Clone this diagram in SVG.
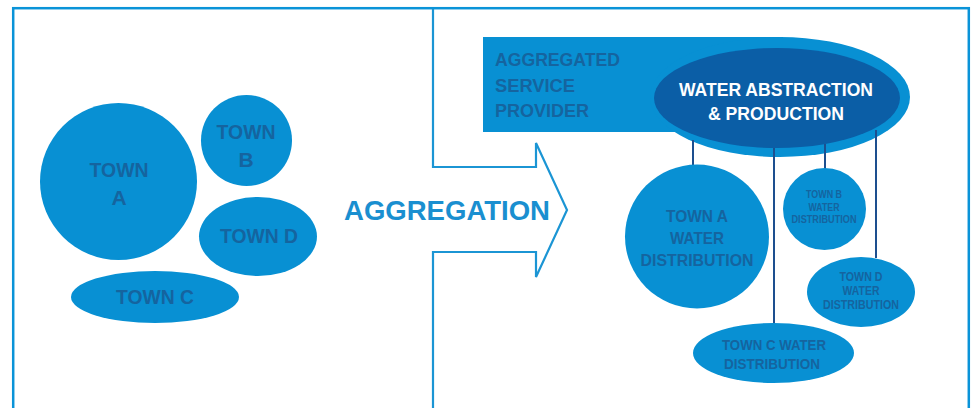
<svg xmlns="http://www.w3.org/2000/svg" width="975" height="408" viewBox="0 0 975 408">
<style>
.blob{fill:#0890d3}
.dark{fill:#0b5ea6}
.t{font-family:"Liberation Sans",Arial,sans-serif;font-weight:bold;fill:#15649f;text-anchor:middle}
.w{font-family:"Liberation Sans",Arial,sans-serif;font-weight:bold;fill:#ffffff;text-anchor:middle}
.link{stroke:#1d4f8f;stroke-width:2;fill:none}
</style>
<rect width="975" height="408" fill="#ffffff"/>
<rect x="13.2" y="8.2" width="955.6" height="420" fill="none" stroke="#0a93d8" stroke-width="2.5"/>
<g id="aggregation-arrow">
<path d="M433,9 V167 H536 V143 L567,210 L536,277 V252 H433 V408" fill="none" stroke="#1b95d4" stroke-width="2.2" stroke-linejoin="miter"/>
<text x="447" y="220" font-family="Liberation Sans,Arial,sans-serif" font-weight="bold" font-size="28" fill="#1a8fd0" text-anchor="middle" textLength="206" lengthAdjust="spacingAndGlyphs">AGGREGATION</text>
</g>
<g id="town-a">
<circle cx="118.5" cy="181.5" r="78.5" class="blob"/>
<text class="t" x="119" y="177" font-size="21" textLength="59" lengthAdjust="spacingAndGlyphs">TOWN</text>
<text class="t" x="119" y="205" font-size="21">A</text>
</g>
<g id="town-b">
<circle cx="246.5" cy="140.5" r="45.5" class="blob"/>
<text class="t" x="246" y="139" font-size="21" textLength="59" lengthAdjust="spacingAndGlyphs">TOWN</text>
<text class="t" x="246" y="167" font-size="21">B</text>
</g>
<g id="town-d">
<ellipse cx="258" cy="236.5" rx="59" ry="39.5" class="blob"/>
<text class="t" x="259" y="243" font-size="21" textLength="78" lengthAdjust="spacingAndGlyphs">TOWN D</text>
</g>
<g id="town-c">
<ellipse cx="155" cy="297" rx="84" ry="26" class="blob"/>
<text class="t" x="155" y="304" font-size="21" textLength="78" lengthAdjust="spacingAndGlyphs">TOWN C</text>
</g>
<g id="aggregated-service-provider">
<rect x="483" y="37" width="300" height="95" class="blob"/>
<ellipse cx="780" cy="97" rx="130" ry="60" class="blob"/>
<text class="t" x="495" y="66" font-size="18" style="text-anchor:start" textLength="125" lengthAdjust="spacingAndGlyphs">AGGREGATED</text>
<text class="t" x="495" y="92" font-size="18" style="text-anchor:start" textLength="80" lengthAdjust="spacingAndGlyphs">SERVICE</text>
<text class="t" x="495" y="117" font-size="18" style="text-anchor:start" textLength="94" lengthAdjust="spacingAndGlyphs">PROVIDER</text>
</g>
<g id="water-abstraction">
<ellipse cx="777" cy="98" rx="123" ry="50" class="dark"/>
<text class="w" x="776" y="96" font-size="18" textLength="194" lengthAdjust="spacingAndGlyphs">WATER ABSTRACTION</text>
<text class="w" x="776" y="120" font-size="18" textLength="136" lengthAdjust="spacingAndGlyphs">&amp; PRODUCTION</text>
</g>
<g id="connectors">
<line class="link" x1="693" y1="140" x2="693" y2="166"/>
<line class="link" x1="774" y1="148" x2="774" y2="324"/>
<line class="link" x1="825" y1="144" x2="825" y2="169"/>
<line class="link" x1="876" y1="130" x2="876" y2="258"/>
</g>
<g id="town-a-water">
<circle cx="697" cy="236.5" r="72" class="blob"/>
<text class="t" x="697" y="222" font-size="17" textLength="62" lengthAdjust="spacingAndGlyphs">TOWN A</text>
<text class="t" x="697" y="244" font-size="17" textLength="54" lengthAdjust="spacingAndGlyphs">WATER</text>
<text class="t" x="697" y="266" font-size="17" textLength="113" lengthAdjust="spacingAndGlyphs">DISTRIBUTION</text>
</g>
<g id="town-b-water">
<ellipse cx="824.5" cy="209" rx="41.5" ry="41" class="blob"/>
<text class="t" x="824" y="198" font-size="10" textLength="36" lengthAdjust="spacingAndGlyphs">TOWN B</text>
<text class="t" x="824" y="211" font-size="10" textLength="31" lengthAdjust="spacingAndGlyphs">WATER</text>
<text class="t" x="824" y="223" font-size="10" textLength="65" lengthAdjust="spacingAndGlyphs">DISTRIBUTION</text>
</g>
<g id="town-d-water">
<ellipse cx="861" cy="292" rx="54" ry="35" class="blob"/>
<text class="t" x="861" y="281" font-size="12" textLength="43" lengthAdjust="spacingAndGlyphs">TOWN D</text>
<text class="t" x="861" y="295" font-size="12" textLength="37" lengthAdjust="spacingAndGlyphs">WATER</text>
<text class="t" x="861" y="309" font-size="12" textLength="76" lengthAdjust="spacingAndGlyphs">DISTRIBUTION</text>
</g>
<g id="town-c-water">
<ellipse cx="773.5" cy="353" rx="80.5" ry="30" class="blob"/>
<text class="t" x="774" y="350" font-size="15" textLength="104" lengthAdjust="spacingAndGlyphs">TOWN C WATER</text>
<text class="t" x="772" y="369" font-size="15" textLength="96" lengthAdjust="spacingAndGlyphs">DISTRIBUTION</text>
</g>
</svg>
